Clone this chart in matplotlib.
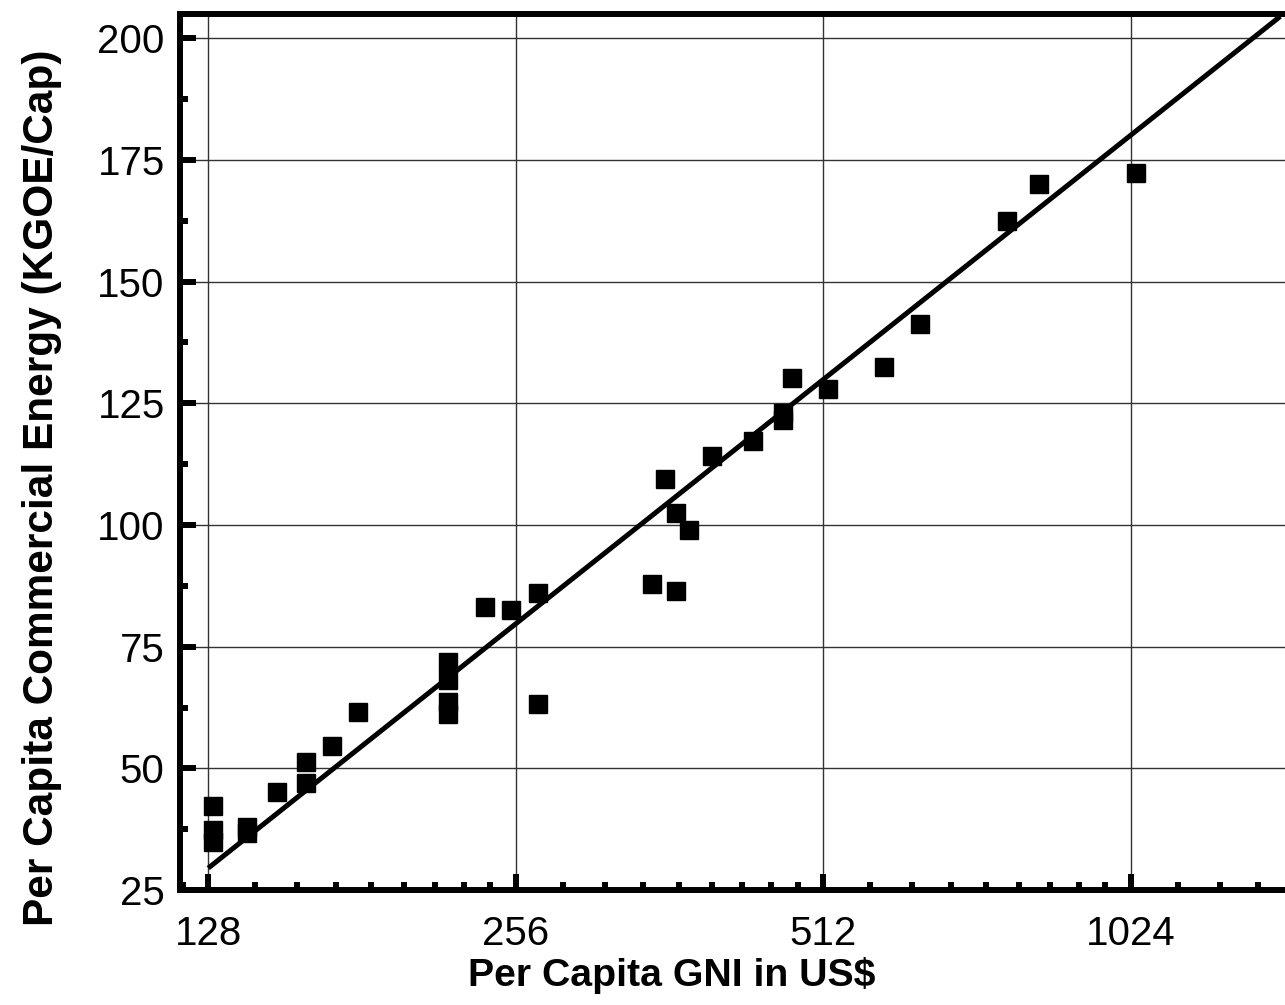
import numpy as np
import matplotlib.pyplot as plt
from matplotlib.ticker import FixedLocator, NullFormatter

# GNI per capita (US$) vs commercial energy per capita (kgoe)
gni = [129.4, 129.4, 129.4, 139.6, 139.6, 149.3, 159.6, 159.6, 169.3, 179.2,
       219.5, 219.5, 219.5, 219.5, 238.7, 253.5, 268.9, 268.9,
       348.2, 358.3, 367.7, 367.7, 378.0, 398.4, 437.4, 467.2, 467.2,
       477.4, 517.0, 586.5, 636.5, 775.5, 832.0, 1035.0]
energy = [42.2, 37.3, 34.8, 37.9, 36.7, 45.2, 46.9, 51.4, 54.6, 61.6,
          71.9, 68.1, 63.6, 61.1, 83.1, 82.5, 86.0, 63.3,
          87.8, 109.4, 86.4, 102.4, 98.9, 114.1, 117.2, 123.0, 121.6,
          130.3, 127.9, 132.5, 141.3, 162.5, 170.0, 172.3]

# fitted line end points
fit_x = [128, 1434]
fit_y = [29.5, 204.5]

xticks = [128, 256, 512, 1024]
yticks = [25, 50, 75, 100, 125, 150, 175, 200]

plt.rcParams['font.family'] = ['Liberation Sans', 'DejaVu Sans']

fig = plt.figure(figsize=(12.85, 10.05), dpi=100)
ax = fig.add_axes([180 / 1285, 115 / 1005, 1110 / 1285, 876 / 1005])

ax.plot(fit_x, fit_y, color='black', lw=3.6, solid_capstyle='butt', zorder=3)
ax.plot(gni, energy, 's', color='black', markersize=12.5, zorder=4)

ax.set_xscale('log', base=2)
ax.set_xlim(120.1, 1466)
ax.set_ylim(25, 205)

ax.xaxis.set_major_locator(FixedLocator(xticks))
ax.set_xticklabels([str(t) for t in xticks])
minor_x = [b * (1 + k / 9) for b in [64, 128, 256, 512, 1024] for k in range(1, 9)]
ax.xaxis.set_minor_locator(FixedLocator(minor_x))
ax.xaxis.set_minor_formatter(NullFormatter())

ax.set_yticks(yticks)
ax.set_yticks(np.arange(37.5, 205, 25), minor=True)

ax.grid(True, which='major', color='#333333', lw=1.0)
ax.set_axisbelow(True)

for side in ['left', 'bottom', 'top']:
    ax.spines[side].set_linewidth(4.3)
ax.spines['right'].set_visible(False)

ax.tick_params(which='major', direction='in', length=11.5, width=4.3,
               labelsize=29)
ax.tick_params(axis='x', which='major', pad=18)
ax.tick_params(axis='y', which='major', pad=11)
ax.tick_params(which='minor', direction='in', length=5.8, width=4.3)

ax.set_xlabel('Per Capita GNI in US$', fontsize=28.3, fontweight='bold')
ax.xaxis.set_label_coords(0.443, -0.077)
ax.set_ylabel('Per Capita Commercial Energy (KGOE/Cap)', fontsize=30.5,
              fontweight='bold')
ax.yaxis.set_label_coords(-0.106, 0.459)

fig.savefig('out.png', dpi=100)
